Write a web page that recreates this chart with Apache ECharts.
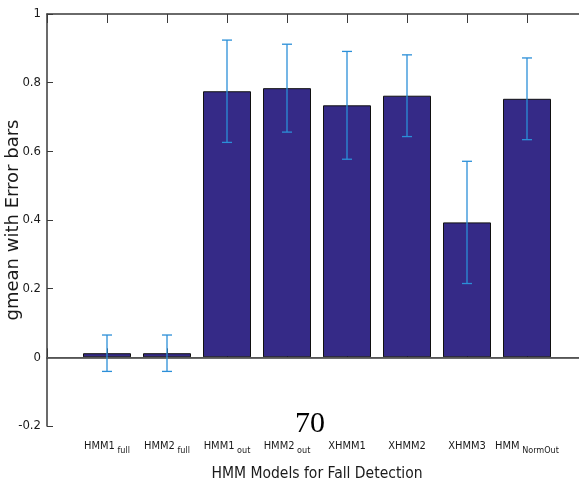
<!DOCTYPE html>
<html>
<head>
<meta charset="utf-8">
<script src="https://cdn.jsdelivr.net/npm/echarts@6/dist/echarts.min.js"></script>
<style>
  html, body { margin: 0; padding: 0; background: #fff; }
  #chart { width: 579px; height: 486px; }
</style>
</head>
<body>
<div id="chart"></div>
<script>
// model names, split in main part + subscript
const models = ['HMM1', 'HMM2', 'HMM1', 'HMM2', 'XHMM1', 'XHMM2', 'XHMM3', 'HMM']
const subs = ['full', 'full', 'out', 'out', '', '', '', 'NormOut']
// gmean per model and half-length of error bar
const gmean = [0.012, 0.012, 0.775, 0.784, 0.734, 0.762, 0.393, 0.753]
const errHalf = [0.053, 0.053, 0.149, 0.128, 0.157, 0.119, 0.178, 0.119]
const yTicks = [-0.2, 0, 0.2, 0.4, 0.6, 0.8, 1]

const narrow = "'DejaVu Sans Condensed', 'Liberation Sans Narrow', 'Liberation Sans', Arial, sans-serif"
const axisColor = '#3a3a3a'

const chart = echarts.init(document.getElementById('chart'))

const barData = gmean.map((v, i) => [i + 1, v])
const errData = gmean.map((v, i) => [i + 1, v - errHalf[i], v + errHalf[i]])

const options = {
  animation: false,
  backgroundColor: '#fff',
  grid: { left: 47, top: 14, right: -8, bottom: 60, containLabel: false, outerBoundsMode: 'none' },
  xAxis: [
    {
      type: 'value',
      min: 0,
      max: 9,
      interval: 1,
      position: 'bottom',
      name: 'HMM Models for Fall Detection',
      nameLocation: 'middle',
      nameGap: 40,
      nameMoveOverlap: false,
      nameTextStyle: { fontFamily: narrow, fontSize: 15.5, color: '#1a1a1a' },
      axisLine: { lineStyle: { color: axisColor, width: 1.5 } },
      axisTick: { inside: true, length: 9, lineStyle: { color: axisColor } },
      splitLine: { show: false },
      axisLabel: {
        margin: 15,
        formatter: function (v) {
          const i = v - 1
          if (i < 0 || i >= models.length) return ''
          return subs[i] ? '{a|' + models[i] + '}{b| ' + subs[i] + '}' : '{a|' + models[i] + '}'
        },
        rich: {
          a: { fontFamily: narrow, fontSize: 11, color: '#1a1a1a', verticalAlign: 'top' },
          b: { fontFamily: narrow, fontSize: 9, color: '#1a1a1a', verticalAlign: 'top', padding: [5, 0, 0, 0] }
        }
      }
    },
    {
      type: 'value',
      min: 0,
      max: 9,
      interval: 1,
      position: 'top',
      axisLine: { lineStyle: { color: axisColor, width: 1.5 } },
      axisTick: { inside: true, length: 9, lineStyle: { color: axisColor } },
      axisLabel: { show: false },
      splitLine: { show: false }
    }
  ],
  yAxis: {
    type: 'value',
    min: -0.2,
    max: 1,
    interval: 0.2,
    name: 'gmean with Error bars',
    nameLocation: 'middle',
    nameGap: 25,
    nameMoveOverlap: false,
    nameTextStyle: { fontFamily: "'DejaVu Sans', Verdana, sans-serif", fontSize: 18, color: '#1a1a1a' },
    axisLine: { show: true, lineStyle: { color: axisColor, width: 1.5 } },
    axisTick: { show: true, inside: true, length: 6, lineStyle: { color: axisColor } },
    splitLine: { show: false },
    axisLabel: {
      fontFamily: narrow,
      fontSize: 13,
      color: '#1a1a1a',
      margin: 6,
      formatter: function (v) { return yTicks.find(t => Math.abs(t - v) < 1e-6) + '' }
    }
  },
  series: [
    {
      type: 'bar',
      data: barData,
      barWidth: 48,
      itemStyle: { color: '#352a87', borderColor: '#111', borderWidth: 1 },
      markLine: {
        silent: true,
        symbol: 'none',
        label: { show: false },
        lineStyle: { color: '#555', width: 1.2, type: 'solid' },
        data: [{ yAxis: 0 }]
      },
      z: 2
    },
    {
      type: 'custom',
      data: errData,
      z: 5,
      renderItem: function (params, api) {
        const x = api.value(0)
        const lo = api.coord([x, api.value(1)])
        const hi = api.coord([x, api.value(2)])
        const cap = 5
        const style = { stroke: '#2b8fd8', lineWidth: 1.3 }
        return {
          type: 'group',
          children: [
            { type: 'line', shape: { x1: lo[0], y1: lo[1], x2: hi[0], y2: hi[1] }, style },
            { type: 'line', shape: { x1: lo[0] - cap, y1: lo[1], x2: lo[0] + cap, y2: lo[1] }, style },
            { type: 'line', shape: { x1: hi[0] - cap, y1: hi[1], x2: hi[0] + cap, y2: hi[1] }, style }
          ]
        }
      }
    }
  ],
  graphic: [
    {
      type: 'text',
      left: 295,
      top: 409,
      z: 10,
      style: { text: '70', font: "30px 'Liberation Serif', 'Times New Roman', serif", fill: '#000' }
    }
  ]
}

chart.setOption(options)
</script>
</body>
</html>
